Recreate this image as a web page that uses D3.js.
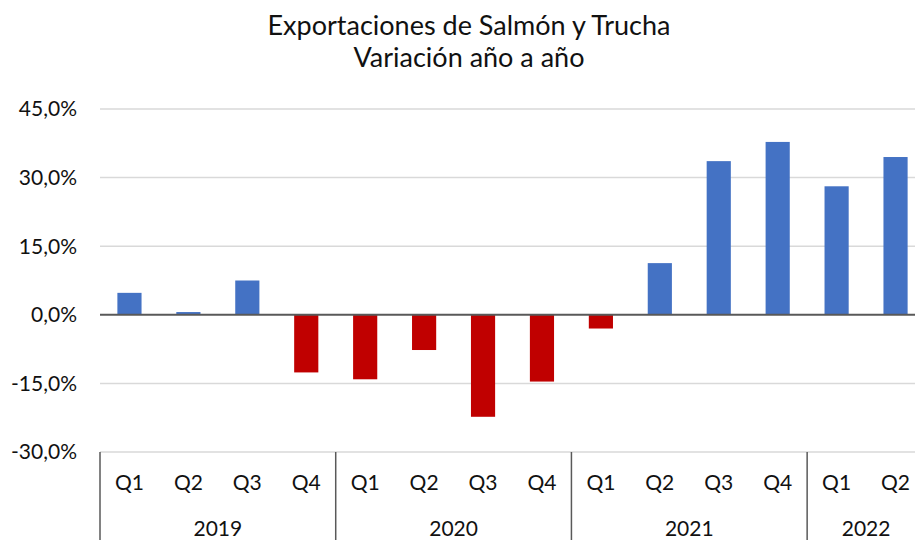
<!DOCTYPE html>
<html>
<head>
<meta charset="utf-8">
<script src="https://cdn.jsdelivr.net/npm/d3@7"></script>
<style>
  body { margin: 0; background: #fff; }
  text { font-family: Lato, "Open Sans", sans-serif; fill: #111; }
</style>
</head>
<body>
<script>
var years = ["2019", "2020", "2021", "2022"];
var quarters = ["Q1", "Q2", "Q3", "Q4", "Q1", "Q2", "Q3", "Q4", "Q1", "Q2", "Q3", "Q4", "Q1", "Q2"];
var yearOf = ["2019", "2019", "2019", "2019", "2020", "2020", "2020", "2020", "2021", "2021", "2021", "2021", "2022", "2022"];
var values = [4.8, 0.6, 7.5, -12.6, -14.1, -7.7, -22.3, -14.6, -3.0, 11.3, 33.6, 37.8, 28.1, 34.5];
var yTicks = [-30, -15, 0, 15, 30, 45];
var titleLines = ["Exportaciones de Salmón y Trucha", "Variación año a año"];

var WIDTH = 915, HEIGHT = 540;
var LEFT = 100, RIGHT = 925, TOP = 109, BOTTOM = 452;

var svg = d3.select("body").append("svg")
    .attr("width", WIDTH)
    .attr("height", HEIGHT);

var x = d3.scaleBand()
    .domain(d3.range(values.length))
    .range([LEFT, RIGHT])
    .padding(0);

var y = d3.scaleLinear()
    .domain([-30, 45])
    .range([BOTTOM, TOP]);

var barW = x.bandwidth() * 0.41;
var fmt = function (d) { return d3.format(".1f")(d).replace(".", ",").replace("\u2212", "-") + "%"; };

// title
svg.append("g").selectAll("text")
    .data(titleLines)
    .enter().append("text")
    .attr("x", 469)
    .attr("y", function (d, i) { return 35 + i * 32; })
    .attr("text-anchor", "middle")
    .style("font-size", "27px")
    .text(function (d) { return d; });

// gridlines
svg.append("g").selectAll("line")
    .data(yTicks.filter(function (d) { return d !== 0; }))
    .enter().append("line")
    .attr("x1", LEFT).attr("x2", WIDTH)
    .attr("y1", function (d) { return y(d); })
    .attr("y2", function (d) { return y(d); })
    .attr("stroke", "#d9d9d9")
    .attr("stroke-width", 1.5);

// y labels
svg.append("g").selectAll("text")
    .data(yTicks)
    .enter().append("text")
    .attr("x", 77)
    .attr("y", function (d) { return y(d); })
    .attr("dy", "0.35em")
    .attr("text-anchor", "end")
    .style("font-size", "21px")
    .text(fmt);

// bars
svg.append("g").selectAll("rect")
    .data(values)
    .enter().append("rect")
    .attr("x", function (d, i) { return x(i) + (x.bandwidth() - barW) / 2; })
    .attr("y", function (d) { return y(Math.max(0, d)); })
    .attr("width", barW)
    .attr("height", function (d) { return Math.abs(y(d) - y(0)); })
    .attr("fill", function (d) { return d < 0 ? "#c00000" : "#4472c4"; });

// zero line
svg.append("line")
    .attr("x1", LEFT).attr("x2", WIDTH)
    .attr("y1", y(0)).attr("y2", y(0))
    .attr("stroke", "#595959")
    .attr("stroke-width", 2);

// quarter labels
svg.append("g").selectAll("text")
    .data(quarters)
    .enter().append("text")
    .attr("x", function (d, i) { return x(i) + x.bandwidth() / 2; })
    .attr("y", 490)
    .attr("text-anchor", "middle")
    .style("font-size", "21px")
    .text(function (d) { return d; });

// year groups
var groups = years.map(function (yr) {
    var idx = d3.range(values.length).filter(function (i) { return yearOf[i] === yr; });
    return { year: yr, start: x(idx[0]), end: x(idx[idx.length - 1]) + x.bandwidth() };
});

svg.append("g").selectAll("line")
    .data(groups.map(function (g) { return g.start; }).concat([groups[groups.length - 1].end]))
    .enter().append("line")
    .attr("x1", function (d) { return d; })
    .attr("x2", function (d) { return d; })
    .attr("y1", BOTTOM).attr("y2", HEIGHT)
    .attr("stroke", "#595959")
    .attr("stroke-width", 1.5);

svg.append("g").selectAll("text")
    .data(groups)
    .enter().append("text")
    .attr("x", function (d) { return (d.start + d.end) / 2; })
    .attr("y", 536)
    .attr("text-anchor", "middle")
    .style("font-size", "21px")
    .text(function (d) { return d.year; });
</script>
</body>
</html>
